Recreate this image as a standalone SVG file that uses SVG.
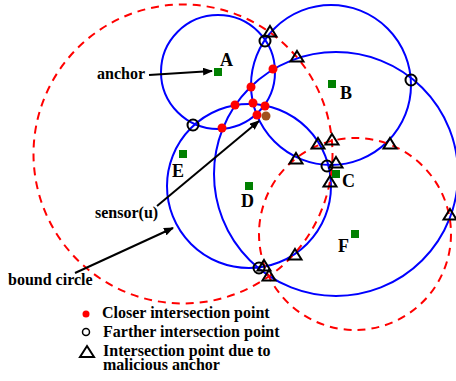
<svg xmlns="http://www.w3.org/2000/svg" xmlns:xlink="http://www.w3.org/1999/xlink" width="456" height="381" viewBox="0 0 456 381">
<style>
.blue{fill:none;stroke:#0000ff;stroke-width:2}
.bound{fill:none;stroke:#ff0000;stroke-width:2;stroke-dasharray:8,6}
.anc{fill:#008000}
.red{fill:#ff0000}
.far{fill:none;stroke:#000;stroke-width:2}
.tri{fill:none;stroke:#000;stroke-width:2;stroke-linejoin:miter}
.lbl{font-family:"Liberation Serif",serif;font-weight:bold;fill:#000}
.big{font-size:18px}
.small{font-size:16px}
.arr{stroke:#000;stroke-width:2;fill:none;marker-end:url(#ah)}
</style>
<defs>
<marker id="ah" viewBox="0 0 10 8" refX="9" refY="4" markerWidth="10" markerHeight="8" markerUnits="userSpaceOnUse" orient="auto"><path d="M0,0 L10,4 L0,8 Z" fill="#000"/></marker>
<path id="tri" class="tri" d="M0,-6 L6.5,4.5 L-6.5,4.5 Z"/>
</defs>
<rect width="456" height="381" fill="#fff"/>

<g id="circles">
<circle id="circle-A" class="blue" cx="218" cy="72" r="57"/>
<circle id="circle-B" class="blue" cx="331" cy="85" r="80"/>
<circle id="circle-C" class="blue" cx="336" cy="174" r="122"/>
<circle id="circle-D" class="blue" cx="249" cy="186" r="82"/>
<circle id="bound-circle" class="bound" cx="183" cy="154" r="149.5"/>
<circle id="circle-F" class="bound" cx="355" cy="234" r="96"/>
</g>

<g id="anchors">
<g id="node-A"><rect class="anc" x="214" y="68" width="8" height="8"/><text class="lbl big" x="220" y="66">A</text></g>
<g id="node-B"><rect class="anc" x="328" y="80" width="8" height="8"/><text class="lbl big" x="340" y="99">B</text></g>
<g id="node-C"><rect class="anc" x="332" y="170" width="8" height="8"/><text class="lbl big" x="342" y="187">C</text></g>
<g id="node-D"><rect class="anc" x="245" y="182" width="8" height="8"/><text class="lbl big" x="241" y="207">D</text></g>
<g id="node-E"><rect class="anc" x="179" y="150" width="8" height="8"/><text class="lbl big" x="172" y="177">E</text></g>
<g id="node-F"><rect class="anc" x="351" y="230" width="8" height="8"/><text class="lbl big" x="338" y="252">F</text></g>
</g>

<g id="closer-points">
<circle class="red" cx="273" cy="69" r="4.5"/>
<circle class="red" cx="251" cy="87" r="4.5"/>
<circle class="red" cx="235" cy="105" r="4.5"/>
<circle class="red" cx="253" cy="103" r="4.5"/>
<circle class="red" cx="265" cy="106" r="4.5"/>
<circle class="red" cx="257" cy="115" r="4.5"/>
<circle class="red" cx="222" cy="128" r="4.5"/>
</g>
<g id="sensor-u"><circle cx="266" cy="116" r="4.5" fill="#a0521d"/></g>

<g id="farther-points">
<circle class="far" cx="265" cy="41" r="5.5"/>
<circle class="far" cx="193" cy="125" r="5.5"/>
<circle class="far" cx="411" cy="80" r="5.5"/>
<circle class="far" cx="327" cy="166" r="5.5"/>
<circle class="far" cx="259" cy="268" r="5.5"/>
</g>

<g id="malicious-points">
<use xlink:href="#tri" x="270" y="32"/>
<use xlink:href="#tri" x="297" y="57"/>
<use xlink:href="#tri" x="318" y="144"/>
<use xlink:href="#tri" x="332" y="140"/>
<use xlink:href="#tri" x="390" y="144"/>
<use xlink:href="#tri" x="296" y="159"/>
<use xlink:href="#tri" x="336" y="163"/>
<use xlink:href="#tri" x="330" y="182"/>
<use xlink:href="#tri" x="450" y="215"/>
<use xlink:href="#tri" x="295" y="255"/>
<use xlink:href="#tri" x="264" y="266"/>
<use xlink:href="#tri" x="269" y="276"/>
</g>

<g id="connectors">
<line class="arr" x1="149" y1="75" x2="212" y2="71"/>
<line class="arr" x1="157" y1="206" x2="259" y2="121"/>
<line class="arr" x1="75" y1="273" x2="173" y2="228"/>
</g>

<g id="labels">
<text class="lbl small" x="97" y="79">anchor</text>
<text class="lbl small" x="95" y="218">sensor(u)</text>
<text class="lbl small" x="8" y="285">bound circle</text>
</g>

<g id="legend">
<circle class="red" cx="86" cy="314" r="3.5"/>
<text class="lbl small" x="102" y="318">Closer intersection point</text>
<circle cx="86" cy="332" r="3.5" fill="none" stroke="#000" stroke-width="1.5"/>
<text class="lbl small" x="103" y="337">Farther intersection point</text>
<path class="tri" d="M87,346 L94,357 L80,357 Z"/>
<text class="lbl small" x="103" y="356">Intersection point due to</text>
<text class="lbl small" x="103" y="370">malicious anchor</text>
</g>
</svg>
